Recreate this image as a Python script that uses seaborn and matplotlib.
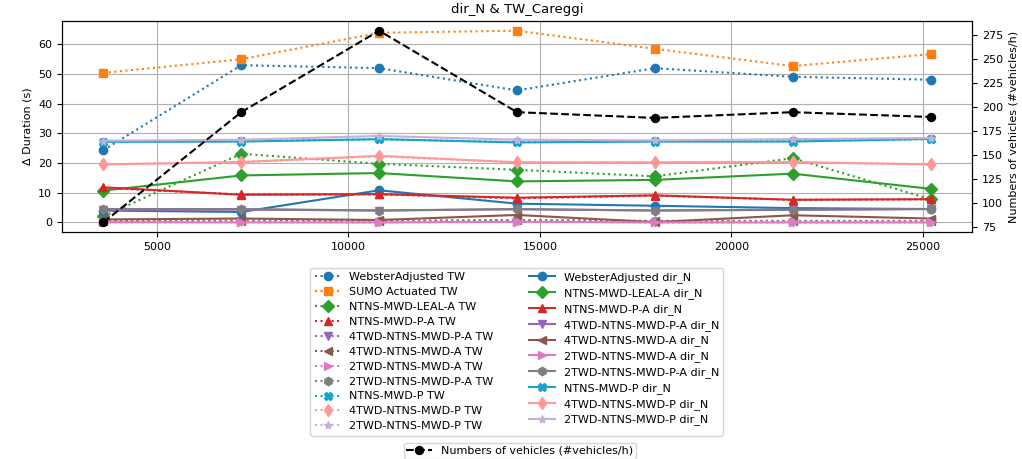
import matplotlib
matplotlib.use("Agg")
import matplotlib.pyplot as plt
import seaborn as sns

# traffic flow (x axis) and vehicles per hour (right axis)
flow = [3600, 7200, 10800, 14400, 18000, 21600, 25200]
vehicles = [80, 195, 280, 195, 189, 195, 190]

# delta duration, TW direction
webster_tw = [24.3, 52.9, 51.9, 44.4, 51.9, 49.0, 48.0]
sumo_tw = [50.3, 54.9, 63.8, 64.5, 58.4, 52.6, 56.6]
leal_a_tw = [2.0, 23.1, 19.7, 17.7, 15.5, 21.6, 7.8]
p_a_tw = [11.6, 9.4, 9.4, 8.1, 9.0, 7.6, 7.8]
tw4_p_a_tw = [0.3, 0.4, 0.3, 0.5, 0.2, 0.3, 0.3]
tw4_a_tw = [0.5, 0.6, 0.5, 0.8, 0.5, 0.5, 0.5]
tw2_a_tw = [0.0, 0.1, 0.0, 0.3, 0.0, 0.0, 0.0]
tw2_p_a_tw = [0.4, 0.5, 0.4, 0.7, 0.4, 0.4, 0.4]
p_tw = [27.2, 27.3, 28.0, 27.0, 27.3, 27.3, 28.0]
tw4_p_tw = [19.5, 20.3, 22.2, 20.2, 20.2, 20.3, 19.5]
tw2_p_tw = [0.0, 0.0, 0.0, 0.0, 0.0, 0.0, 0.0]

# delta duration, dir_N direction
webster_n = [4.0, 3.5, 10.8, 6.3, 5.6, 4.8, 4.5]
leal_a_n = [10.7, 15.8, 16.6, 13.8, 14.3, 16.4, 11.3]
p_a_n = [11.8, 9.3, 9.5, 8.3, 9.1, 7.6, 7.8]
tw4_p_a_n = [4.2, 4.3, 4.0, 4.4, 4.0, 4.3, 4.5]
tw4_a_n = [1.0, 1.3, 0.8, 2.5, 0.1, 2.4, 1.3]
tw2_a_n = [0.1, 0.0, 0.0, 0.2, 0.0, 0.0, 0.0]
tw2_p_a_n = [4.5, 4.5, 4.0, 4.5, 4.0, 4.2, 4.5]
p_n = [27.1, 27.2, 28.0, 26.9, 27.2, 27.2, 28.1]
tw4_p_n = [19.5, 20.3, 22.4, 20.2, 20.2, 20.3, 19.5]
tw2_p_n = [27.5, 27.8, 29.1, 27.8, 27.6, 28.0, 28.4]

# (label, values, color, marker)
tw_series = [
    ("WebsterAdjusted TW", webster_tw, "#1f77b4", "o"),
    ("SUMO Actuated TW", sumo_tw, "#ff7f0e", "s"),
    ("NTNS-MWD-LEAL-A TW", leal_a_tw, "#2ca02c", "D"),
    ("NTNS-MWD-P-A TW", p_a_tw, "#d62728", "^"),
    ("4TWD-NTNS-MWD-P-A TW", tw4_p_a_tw, "#9467bd", "v"),
    ("4TWD-NTNS-MWD-A TW", tw4_a_tw, "#8c564b", "<"),
    ("2TWD-NTNS-MWD-A TW", tw2_a_tw, "#e377c2", ">"),
    ("2TWD-NTNS-MWD-P-A TW", tw2_p_a_tw, "#7f7f7f", "h"),
    ("NTNS-MWD-P TW", p_tw, "#18a3cf", "X"),
    ("4TWD-NTNS-MWD-P TW", tw4_p_tw, "#ff9896", "d"),
    ("2TWD-NTNS-MWD-P TW", tw2_p_tw, "#c5b0d5", "*"),
]
n_series = [
    ("WebsterAdjusted dir_N", webster_n, "#1f77b4", "o"),
    ("NTNS-MWD-LEAL-A dir_N", leal_a_n, "#2ca02c", "D"),
    ("NTNS-MWD-P-A dir_N", p_a_n, "#d62728", "^"),
    ("4TWD-NTNS-MWD-P-A dir_N", tw4_p_a_n, "#9467bd", "v"),
    ("4TWD-NTNS-MWD-A dir_N", tw4_a_n, "#8c564b", "<"),
    ("2TWD-NTNS-MWD-A dir_N", tw2_a_n, "#e377c2", ">"),
    ("2TWD-NTNS-MWD-P-A dir_N", tw2_p_a_n, "#7f7f7f", "h"),
    ("NTNS-MWD-P dir_N", p_n, "#18a3cf", "X"),
    ("4TWD-NTNS-MWD-P dir_N", tw4_p_n, "#ff9896", "d"),
    ("2TWD-NTNS-MWD-P dir_N", tw2_p_n, "#c5b0d5", "*"),
]

plt.rcParams['font.family'] = ['DejaVu Sans']
plt.rcParams['font.size'] = 8

fig = plt.figure(figsize=(10.22, 4.59), dpi=100)
ax = fig.add_axes([0.0607, 0.4946, 0.8903, 0.4594])

for style, series in ((":", tw_series), ("-", n_series)):
    for label, vals, color, marker in series:
        sns.lineplot(x=flow, y=vals, ax=ax, color=color, marker=marker,
                     linestyle=style, linewidth=1.5, markersize=6,
                     markeredgecolor=color, markeredgewidth=1, label=label)

ax.set_ylabel('Δ Duration (s)')
ax.set_title('dir_N & TW_Careggi', fontsize=9.5)
ax.grid(True, color='#b0b0b0', linewidth=0.8)
ax.set_axisbelow(True)

ax2 = ax.twinx()
sns.lineplot(x=flow, y=vehicles, ax=ax2, color='black', marker='o',
             linestyle='--', linewidth=1.5, markersize=6,
             markeredgecolor='black', label='Numbers of vehicles (#vehicles/h)')
ax2.set_ylabel('Numbers of vehicles (#vehicles/h)')

ax.legend(loc='upper center', bbox_to_anchor=(0.5, -0.16), ncol=2,
          fontsize=8, labelspacing=0.44, columnspacing=3.2, handlelength=2.3,
          borderaxespad=0.2)
ax2.legend(loc='upper center', bbox_to_anchor=(0.503, -0.99),
           fontsize=8, handlelength=2.3, borderpad=0.25, borderaxespad=0.2)

fig.savefig('out.png', dpi=100)
plt.close(fig)
